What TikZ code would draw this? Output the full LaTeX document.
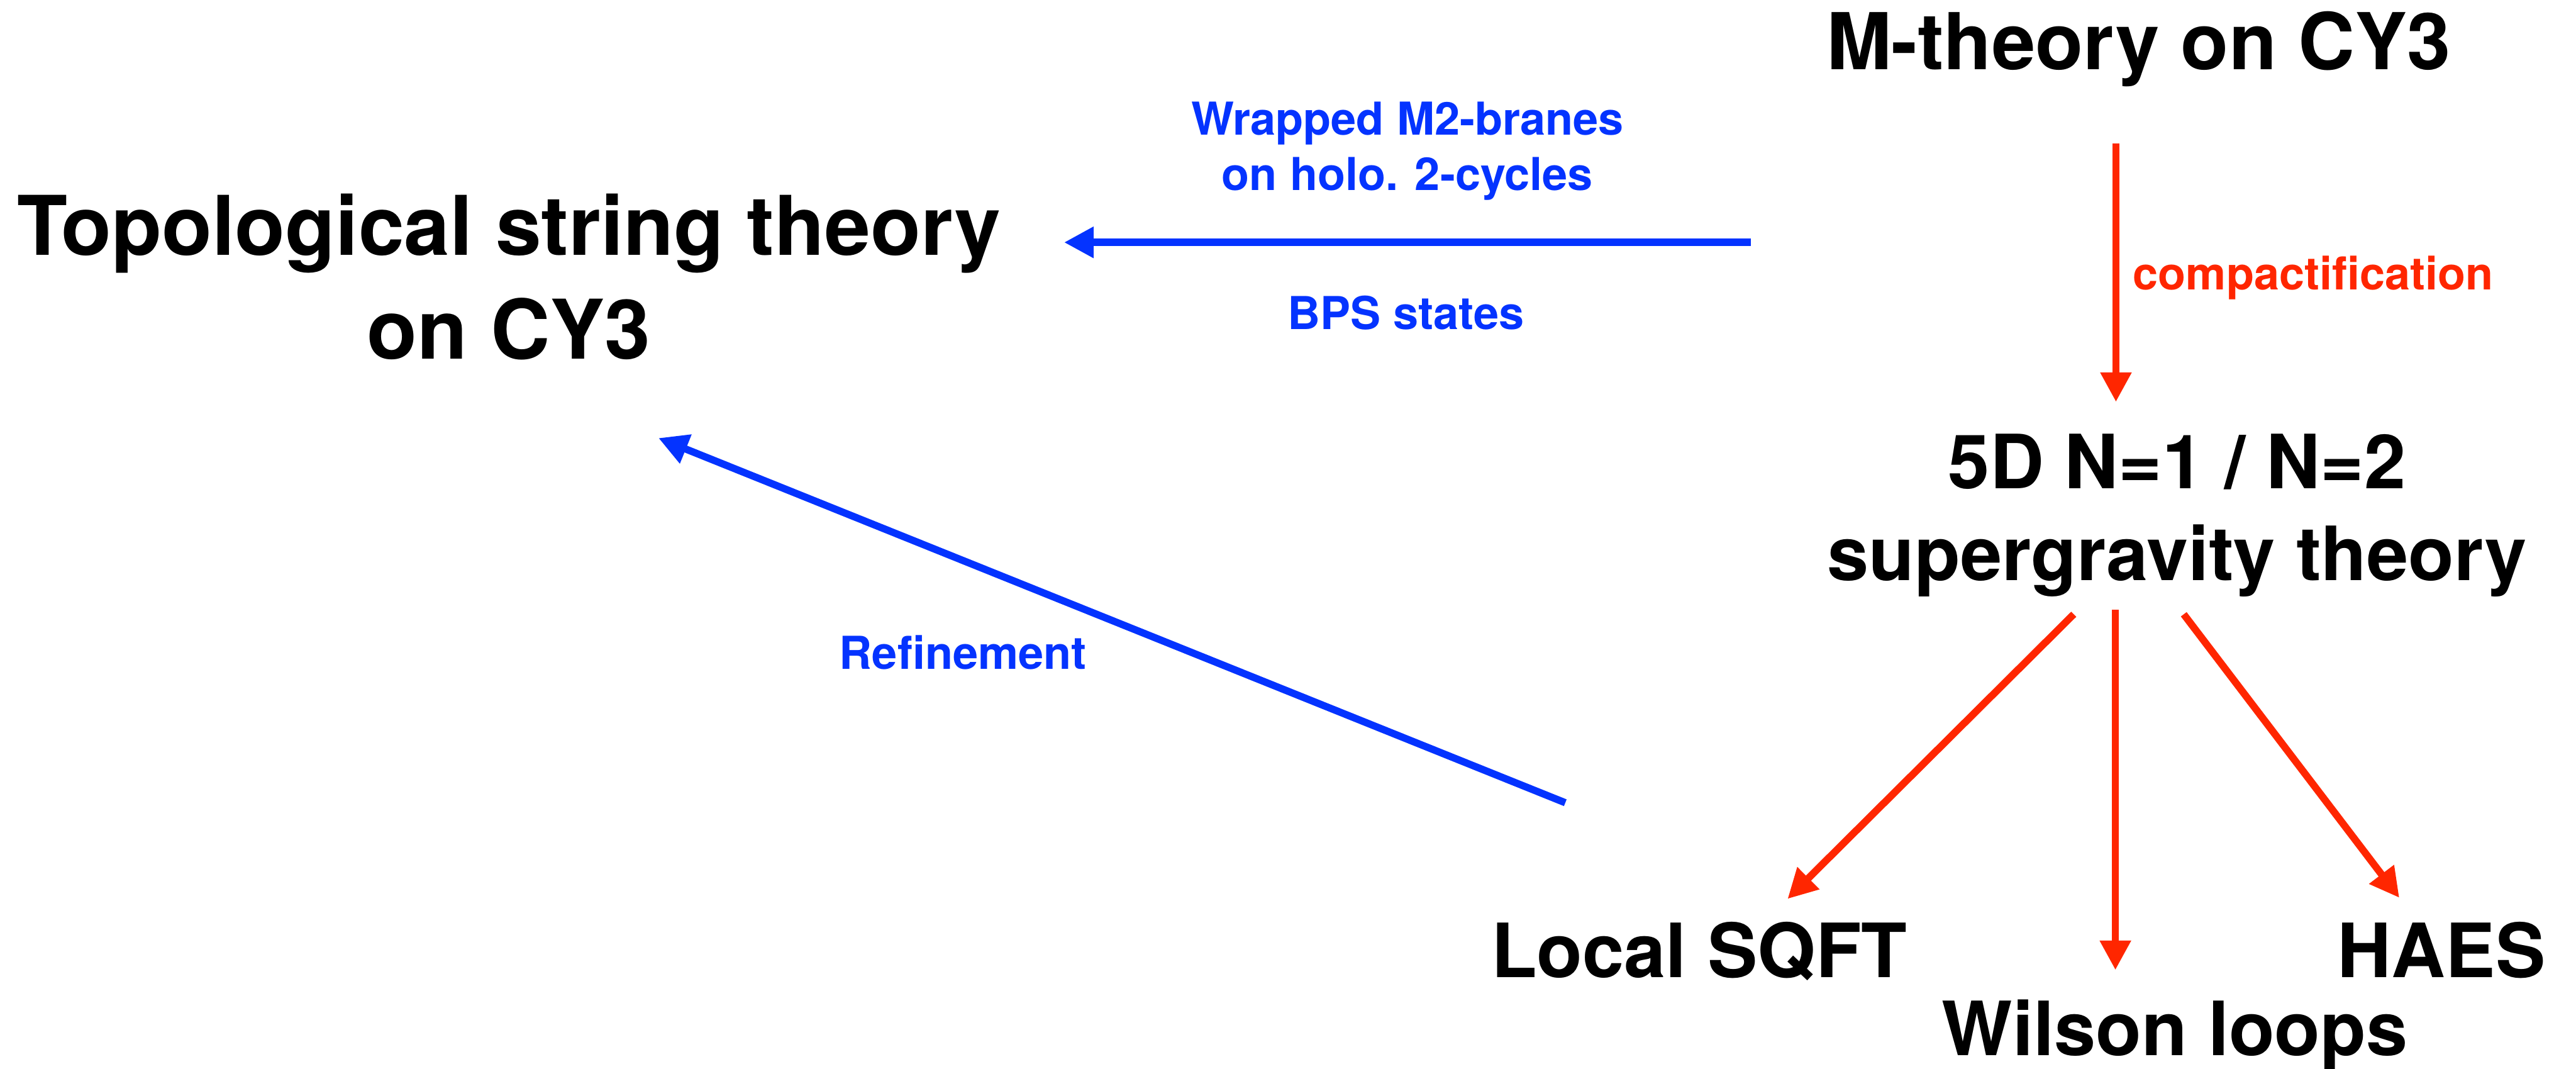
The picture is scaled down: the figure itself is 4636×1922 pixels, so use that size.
\documentclass[tikz,border=0pt]{standalone}
\usepackage{fontspec}
\setmainfont{TeX Gyre Heros}
\usetikzlibrary{arrows.meta}
\definecolor{kblue}{HTML}{0433FF}
\definecolor{kred}{HTML}{FF2600}
\begin{document}
\begin{tikzpicture}[x=0.01cm,y=-0.01cm,
  txt/.style={inner sep=0pt,anchor=base,align=center,font=\bfseries},
  bigtxt/.style={txt,font=\bfseries\fontsize{38.3}{46.9}\selectfont},
  lbl/.style={txt,font=\bfseries\fontsize{23.2}{28.2}\selectfont},
  conn/.style={line width=0.13cm,-{Triangle[length=0.53cm,width=0.53cm]}},
  bluearrow/.style={conn,kblue},
  redarrow/.style={conn,kred}]
\useasboundingbox (0,0) rectangle (4636,1922);

% main statements (multi-line nodes are placed by the baseline of their last line)
\node[txt,font=\bfseries\fontsize{40.1}{48}\selectfont] (mth) at (3849,125) {M-theory on CY3};
\node[txt,font=\bfseries\fontsize{42.1}{53.2}\selectfont] (top) at (916,646) {Topological string theory\\on CY3};
\node[bigtxt] (sugra) at (3918,1044) {5D N=1 / N=2\\supergravity theory};
\node[bigtxt] (lsqft) at (3058,1758) {Local SQFT};
\node[bigtxt] (haes) at (4394,1758) {HAES};
\node[bigtxt] (wil) at (3914,1899) {Wilson loops};

% arrow labels
\node[lbl,text=kblue] (wrap) at (2533,342) {Wrapped M2-branes\\on holo. 2-cycles};
\node[lbl,text=kblue] (bps) at (2530,592) {BPS states};
\node[lbl,text=kred,anchor=base west] (comp) at (3838,521) {compactification};
\node[lbl,text=kblue] (refine) at (1733,1204) {Refinement};

% connector end points
\coordinate (mthout) at (3808,258);
\coordinate (sugrain) at (3808,723);
\coordinate (mthleft) at (3151,436);
\coordinate (topright) at (1915,436);
\coordinate (refstart) at (2817,1444);
\coordinate (topbottom) at (1185,788);
\coordinate (sugraL) at (3732,1105);
\coordinate (sugraM) at (3807,1097);
\coordinate (sugraR) at (3930,1105);
\coordinate (lsqftin) at (3217,1617);
\coordinate (wilin) at (3807,1745);
\coordinate (haesin) at (4318,1615);

% connectors
\draw[redarrow] (mthout) -- (sugrain);
\draw[bluearrow] (mthleft) -- (topright);
\draw[bluearrow] (refstart) -- (topbottom);
\draw[redarrow] (sugraL) -- (lsqftin);
\draw[redarrow] (sugraM) -- (wilin);
\draw[redarrow] (sugraR) -- (haesin);
\end{tikzpicture}
\end{document}
